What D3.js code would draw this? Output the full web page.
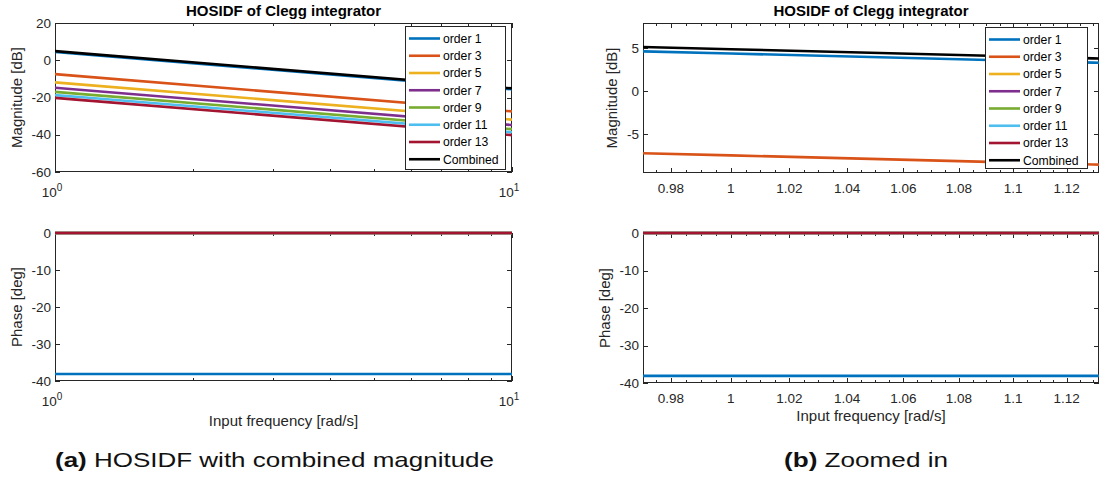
<!DOCTYPE html>
<html><head><meta charset="utf-8">
<script src="https://cdn.jsdelivr.net/npm/d3@7"></script>
<style>
html,body{margin:0;padding:0;background:#fff;}
svg{display:block;}
text{font-family:"Liberation Sans",Arial,Helvetica,sans-serif;}
</style></head>
<body>
<svg id="chart" width="1100" height="482"></svg>
<script>
// ---------- data ----------
const freq = [0.97, 1, 1.13, 10];                 // rad/s
const seriesNames = ["order 1","order 3","order 5","order 7","order 9","order 11","order 13","Combined"];
const seriesColors = ["#0072BD","#D95319","#EDB120","#7E2F8E","#77AC30","#4DBEEE","#A2142F","#000000"];
const magOrder1  = [4.66, 4.4, 3.34, -15.6];
const magOrder3  = [-7.19, -7.45, -8.51, -27.45];
const magOrder5  = [-11.64, -11.9, -12.96, -31.9];
const magOrder7  = [-14.54, -14.8, -15.86, -34.8];
const magOrder9  = [-16.74, -17.0, -18.06, -37.0];
const magOrder11 = [-18.44, -18.7, -19.76, -38.7];
const magOrder13 = [-19.94, -20.2, -21.26, -40.2];
const magCombined= [5.16, 4.9, 3.84, -15.1];
const phaseOrder1  = [-38.1, -38.1, -38.1, -38.1];
const phaseOrder3  = [0, 0, 0, 0];
const phaseOrder5  = [0, 0, 0, 0];
const phaseOrder7  = [0, 0, 0, 0];
const phaseOrder9  = [0, 0, 0, 0];
const phaseOrder11 = [0, 0, 0, 0];
const phaseOrder13 = [0, 0, 0, 0];
const magTicksFull = [-60, -40, -20, 0, 20];
const magTicksZoom = [-5, 0, 5];
const phaseTicks = [-40, -30, -20, -10, 0];
const freqTicksFull = [1, 10];
const freqTicksZoom = [0.98, 1, 1.02, 1.04, 1.06, 1.08, 1.1, 1.12];
const titleText = "HOSIDF of Clegg integrator";
const captionA = ["(a)", " HOSIDF with combined magnitude"];
const captionB = ["(b)", " Zoomed in"];

const magSeries = [magOrder1, magOrder3, magOrder5, magOrder7, magOrder9, magOrder11, magOrder13, magCombined];
const phaseSeries = [phaseOrder1, phaseOrder3, phaseOrder5, phaseOrder7, phaseOrder9, phaseOrder11, phaseOrder13];

// ---------- drawing ----------
const svg = d3.select("#chart");
const AX = "#262626";
const LW = 2.6;
let clipId = 0;

function panel(o) {
  const x = d3.scaleLog().domain(o.xDomain).range([o.x0, o.x1]);
  const y = d3.scaleLinear().domain(o.yDomain).range([o.y1, o.y0]);
  const g = svg.append("g");
  g.append("rect").attr("x", o.x0).attr("y", o.y0).attr("width", o.x1 - o.x0).attr("height", o.y1 - o.y0)
    .attr("fill", "#fff");
  const id = "clip" + (clipId++);
  g.append("clipPath").attr("id", id).append("rect")
    .attr("x", o.x0).attr("y", o.y0 - 2).attr("width", o.x1 - o.x0).attr("height", o.y1 - o.y0 + 4);
  const line = d3.line().x((d, i) => x(freq[i])).y(d => y(d));
  // axes box
  const ag = g.append("g").attr("stroke", AX).attr("stroke-width", 1).attr("fill", "none");
  const xb = o.y1, xt = o.y0;
  o.xMinor.forEach(v => {
    const px = Math.round(x(v)) + 0.5;
    ag.append("line").attr("x1", px).attr("x2", px).attr("y1", xb).attr("y2", xb - 3);
    ag.append("line").attr("x1", px).attr("x2", px).attr("y1", xt).attr("y2", xt + 3);
  });
  o.xTicks.forEach(v => {
    const px = Math.round(x(v)) + 0.5;
    ag.append("line").attr("x1", px).attr("x2", px).attr("y1", xb).attr("y2", xb - 5);
    ag.append("line").attr("x1", px).attr("x2", px).attr("y1", xt).attr("y2", xt + 5);
  });
  o.yTicks.forEach(v => {
    const py = Math.round(y(v)) + 0.5;
    ag.append("line").attr("x1", o.x0).attr("x2", o.x0 + 5).attr("y1", py).attr("y2", py);
    ag.append("line").attr("x1", o.x1).attr("x2", o.x1 - 5).attr("y1", py).attr("y2", py);
  });
  ag.append("rect").attr("x", o.x0 + 0.5).attr("y", o.y0 + 0.5)
    .attr("width", o.x1 - o.x0 - 1).attr("height", o.y1 - o.y0 - 1);
  // data lines on top of the box
  const lg = g.append("g").attr("clip-path", `url(#${id})`);
  o.series.forEach((s, i) => {
    lg.append("path").attr("d", line(s)).attr("fill", "none")
      .attr("stroke", seriesColors[i]).attr("stroke-width", LW);
  });
  // tick labels
  o.yTicks.forEach(v => {
    g.append("text").attr("x", o.x0 - 4).attr("y", y(v) + 4.5).attr("text-anchor", "end")
      .attr("font-size", 13.5).attr("fill", AX).text(String(v));
  });
  o.xTicks.forEach(v => {
    if (o.logLabels) {
      const t = g.append("text").attr("x", x(v) - 3).attr("y", o.y1 + o.xLabDy).attr("text-anchor", "middle")
        .attr("font-size", 13.5).attr("fill", AX);
      t.append("tspan").text("10");
      t.append("tspan").attr("dy", -6).attr("font-size", 10).text(String(Math.round(Math.log10(v))));
    } else {
      g.append("text").attr("x", x(v)).attr("y", o.y1 + o.xLabDy).attr("text-anchor", "middle")
        .attr("font-size", 13.5).attr("fill", AX).text(String(v));
    }
  });
  if (o.title) {
    g.append("text").attr("x", (o.x0 + o.x1) / 2).attr("y", 16).attr("text-anchor", "middle")
      .attr("font-size", 15).attr("font-weight", "bold").attr("fill", "#000").text(o.title);
  }
  g.append("text").attr("transform", `translate(${o.yLabX},${(o.y0 + o.y1) / 2}) rotate(-90)`)
    .attr("text-anchor", "middle").attr("font-size", 15).attr("fill", AX).text(o.yLabel);
  if (o.xLabel) {
    g.append("text").attr("x", (o.x0 + o.x1) / 2).attr("y", o.xLabY).attr("text-anchor", "middle")
      .attr("font-size", 15).attr("fill", AX).text(o.xLabel);
  }
  if (o.legend) {
    const L = o.legend;
    const lgd = g.append("g");
    lgd.append("rect").attr("x", L.x + 0.5).attr("y", L.y + 0.5).attr("width", L.w).attr("height", L.h)
      .attr("fill", "#fff").attr("stroke", AX).attr("stroke-width", 1);
    seriesNames.forEach((n, i) => {
      const ry = L.y + 12.5 + i * 17.25;
      lgd.append("line").attr("x1", L.x + 4).attr("x2", L.x + 35).attr("y1", ry).attr("y2", ry)
        .attr("stroke", seriesColors[i]).attr("stroke-width", LW);
      lgd.append("text").attr("x", L.x + 38).attr("y", ry + 4.3).attr("font-size", 12.2)
        .attr("fill", "#000").text(n);
    });
  }
}

function minorLog(a, b) {
  const out = [];
  for (let d = 1; d < 10; d *= 10) for (let k = 2; k <= 9; k++) { const v = k * d; if (v > a && v < b) out.push(v); }
  return out;
}
const zoomMinor = d3.range(0.97, 1.135, 0.005).map(v => +v.toFixed(3))
  .filter(v => !freqTicksZoom.some(t => Math.abs(t - v) < 1e-6) && v > 0.9708 && v < 1.1323);

// left top
panel({ x0: 55, x1: 512, y0: 23, y1: 172, xDomain: [1, 10], yDomain: [-60, 20],
  series: magSeries, xTicks: freqTicksFull, xMinor: minorLog(1, 10), yTicks: magTicksFull,
  logLabels: true, xLabDy: 25, title: titleText, yLabel: "Magnitude [dB]", yLabX: 22,
  legend: { x: 405, y: 26, w: 100, h: 143 } });
// left bottom
panel({ x0: 55, x1: 512, y0: 233, y1: 381, xDomain: [1, 10], yDomain: [-40, 0],
  series: phaseSeries, xTicks: freqTicksFull, xMinor: minorLog(1, 10), yTicks: phaseTicks,
  logLabels: true, xLabDy: 25, yLabel: "Phase [deg]", yLabX: 22,
  xLabel: "Input frequency [rad/s]", xLabY: 426 });
// right top
panel({ x0: 643, x1: 1099, y0: 23, y1: 173, xDomain: [0.9708, 1.1323], yDomain: [-9.5, 7.95],
  series: magSeries, xTicks: freqTicksZoom, xMinor: zoomMinor, yTicks: magTicksZoom,
  logLabels: false, xLabDy: 20, title: titleText, yLabel: "Magnitude [dB]", yLabX: 617,
  legend: { x: 985, y: 27, w: 102, h: 141 } });
// right bottom
panel({ x0: 643, x1: 1099, y0: 233, y1: 383, xDomain: [0.9708, 1.1323], yDomain: [-40, 0],
  series: phaseSeries, xTicks: freqTicksZoom, xMinor: zoomMinor, yTicks: phaseTicks,
  logLabels: false, xLabDy: 20, yLabel: "Phase [deg]", yLabX: 610,
  xLabel: "Input frequency [rad/s]", xLabY: 421 });

// captions
function caption(parts, x, len) {
  const t = svg.append("text").attr("x", x).attr("y", 467).attr("font-size", 21)
    .attr("fill", "#111").attr("textLength", len).attr("lengthAdjust", "spacingAndGlyphs")
    .style("font-family", "'Liberation Sans',Arial,sans-serif");
  t.append("tspan").attr("font-weight", "bold").text(parts[0]);
  t.append("tspan").text(parts[1]);
}
caption(captionA, 55, 439);
caption(captionB, 784, 164);
</script>
</body></html>
